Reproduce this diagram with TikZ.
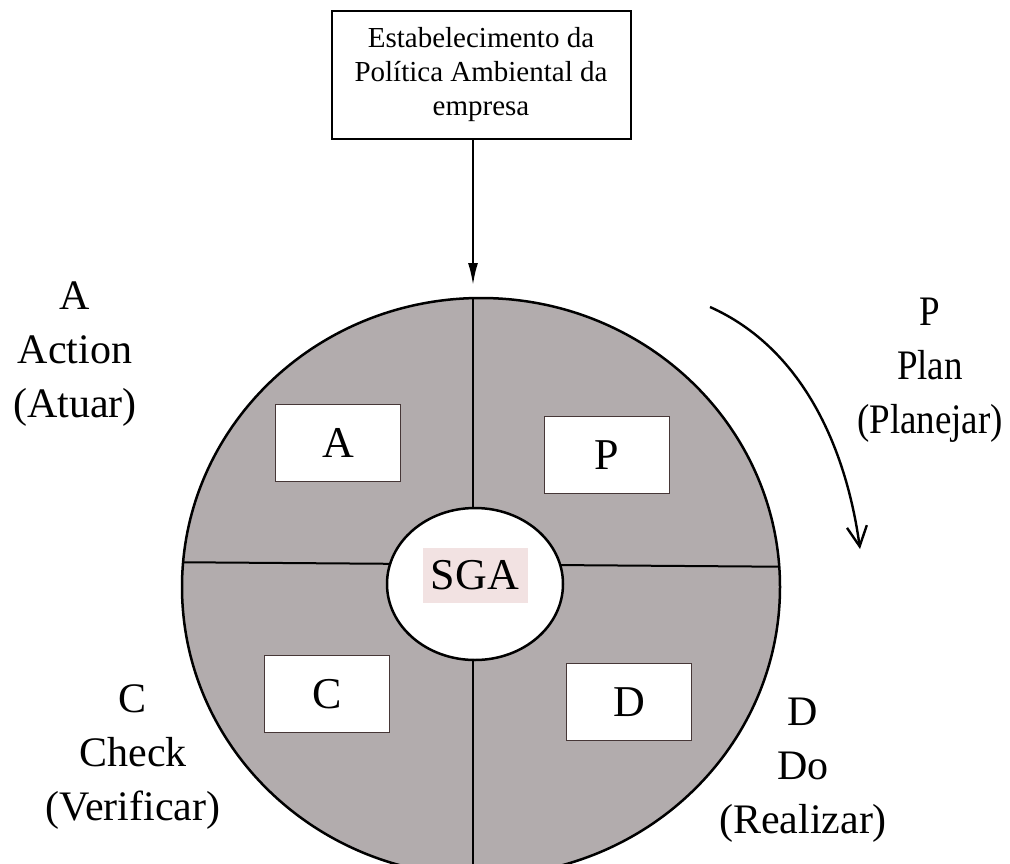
\documentclass[tikz,border=0pt]{standalone}
\usepackage{fontspec}
\setmainfont{Liberation Serif}
\usetikzlibrary{shapes.geometric,arrows.meta}
\definecolor{discgray}{RGB}{178,172,173}
\definecolor{sgapink}{RGB}{242,226,226}
\definecolor{boxedge}{RGB}{70,55,55}

\begin{document}
\begin{tikzpicture}[x=1pt, y=-1pt,
    letterbox/.style={draw=boxedge, line width=1.5pt, fill=white, minimum width=125pt, minimum height=77pt, inner sep=0pt, font=\fontsize{44}{50}\selectfont},
    phase/.style={align=center, inner sep=0pt, font=\fontsize{42}{54}\selectfont}]
    \fill[white] (0,0) rectangle (1010,863);
    \useasboundingbox (0,0) rectangle (1010,863);
    \clip (0,0) rectangle (1010,863);

    \fill[discgray] (481,587) ellipse [x radius=299, y radius=289];
    \begin{scope}
        \clip (481,587) ellipse [x radius=299, y radius=289];
        \draw[line width=2pt] (473,250) -- (473,900);
        \draw[line width=2pt] (150,562) -- (820,567);
    \end{scope}
    \draw[line width=2.5pt] (481,587) ellipse [x radius=299, y radius=289];

    \node[ellipse, draw, line width=2.5pt, fill=white, minimum width=176pt, minimum height=152pt] (sga) at (475,584) {};
    \node[fill=sgapink, minimum width=105pt, minimum height=55pt, font=\fontsize{44}{50}\selectfont] (sgatext) at (475,575) {SGA};

    \node[letterbox] (boxA) at (338,443) {A};
    \node[letterbox] (boxP) at (607,455) {P};
    \node[letterbox] (boxC) at (327,694) {C};
    \node[letterbox] (boxD) at (629,702) {D};

    \node[draw, line width=2pt, minimum width=299pt, minimum height=128pt, align=center, font=\fontsize{29}{34}\selectfont] (policy) at (481,75) {Estabelecimento da\\Política Ambiental da\\empresa};
    \coordinate (entry) at (473,285);
    \draw[line width=2pt, -{Latex[length=22pt,width=10pt]}] (entry |- policy.south) -- (entry);

    \coordinate (cycstart) at (710,307);
    \coordinate (cycend) at (860,549);
    \draw[line width=2.4pt, -{Straight Barb[length=20pt,width=20pt]}] (cycstart) .. controls (802,348) and (846,447) .. (cycend);

    \node[phase] (actlabel) at (75,354) {A\\Action\\(Atuar)};
    \node[phase, xscale=0.88] (planlabel) at (930,370) {P\\Plan\\(Planejar)};
    \node[phase] (checklabel) at (133,757) {C\\Check\\(Verificar)};
    \node[phase] (dolabel) at (803,770) {D\\Do\\(Realizar)};
\end{tikzpicture}
\end{document}
